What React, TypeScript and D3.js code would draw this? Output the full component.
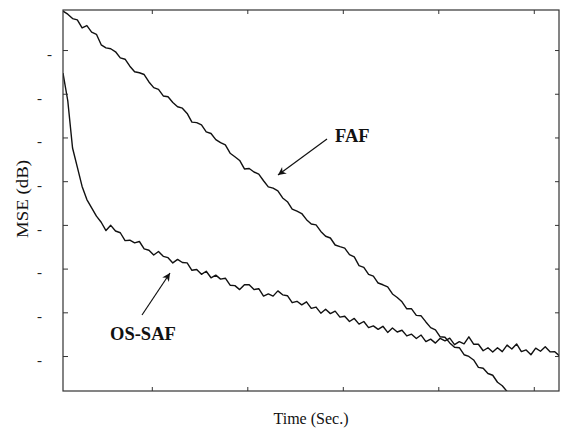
import React, { useEffect, useRef } from "react";
import * as d3 from "d3";

// sampling grid (sec.)
const t0 = 0.07;
const tStep = 0.05;

const fafMse = [
  4.46, 4.1, 3.6, 3.45, 2.53, 2.8, 2.05, 1.8, 0.6, 0.25,
  0.15, -0.2, -0.9, -1.05, -1.85, -2.49, -2.6, -2.8, -3.65, -4.3,
  -4.5, -5.25, -5.35, -6.0, -6.49, -6.65, -7.25, -8.25, -8.3, -8.55,
  -9.35, -9.55, -10.25, -10.6, -10.85, -11.8, -12.2, -12.63, -13.6, -13.55,
  -13.95, -14.2, -14.95, -15.65, -15.8, -16.1, -16.92, -17.35, -18.2, -18.43,
  -18.7, -19.4, -19.9, -20.0, -20.75, -21.3, -21.5, -22.3, -22.49, -22.65,
  -23.4, -23.65, -24.65, -24.85, -25.65, -25.85, -26.65, -26.85, -27.1, -27.9,
  -28.3, -28.8, -29.6, -29.6, -30.35, -30.4, -31.1, -31.75, -32.0, -32.8,
  -32.85, -33.5, -34.0, -34.05, -34.85, -35.05, -35.45, -36.3, -36.4, -37.0,
  -37.2, -38.0, -38.4, -39.05, -39.2, -39.7,
];

const ossafMse = [
  -2.63, -5.8, -11.2, -13.4, -15.6, -17.1, -18.05, -19.0, -19.7, -20.65,
  -20.05, -20.7, -20.9, -21.8, -21.75, -22.05, -21.9, -22.75, -22.9, -23.45,
  -23.05, -23.6, -23.75, -24.35, -23.95, -24.3, -24.35, -25.19, -25.1, -25.65,
  -25.3, -26.05, -25.75, -26.2, -26.1, -26.9, -26.95, -27.4, -26.85, -26.85,
  -27.4, -27.3, -28.15, -27.9, -28.15, -27.55, -28.0, -28.1, -28.9, -28.74,
  -29.15, -28.8, -29.55, -29.4, -30.1, -29.65, -30.15, -29.87, -30.55, -30.45,
  -31.05, -30.7, -31.35, -31.05, -31.75, -31.55, -31.95, -31.6, -32.3, -31.8,
  -32.25, -32.05, -32.7, -32.5, -33.0, -32.6, -33.35, -33.07, -33.52, -32.97,
  -33.27, -32.95, -33.7, -33.35, -33.6, -32.8, -33.65, -33.65, -34.4, -34.05,
  -34.55, -34.05, -34.5, -33.75, -34.2, -33.62, -34.5, -34.3, -34.85, -34.1,
  -34.45, -33.95, -34.52, -34.5, -35.0,
];

const xTicks = [1, 2, 3, 4, 5];
const yTicks = [0, -5, -10, -15, -20, -25, -30, -35];

const width = 562;
const height = 437;
const plot = { left: 63, right: 559, top: 10, bottom: 391 };
const serif = '"Liberation Serif", "DejaVu Serif", serif';

export default function App() {
  const ref = useRef<SVGSVGElement>(null);

  useEffect(() => {
    const svg = d3.select(ref.current);
    svg.selectAll("*").remove();

    const x = d3.scaleLinear().domain([0.07, 5.264]).range([plot.left, plot.right]);
    const y = d3.scaleLinear().domain([4.58, -39.0]).range([plot.top, plot.bottom]);

    const defs = svg.append("defs");
    defs.append("clipPath").attr("id", "plotclip")
      .append("rect")
      .attr("x", plot.left).attr("y", plot.top)
      .attr("width", plot.right - plot.left).attr("height", plot.bottom - plot.top);

    const marker = defs.append("marker")
      .attr("id", "arrowhead")
      .attr("viewBox", "0 0 10 10")
      .attr("refX", 10).attr("refY", 5)
      .attr("markerWidth", 9).attr("markerHeight", 8)
      .attr("markerUnits", "userSpaceOnUse")
      .attr("orient", "auto");
    marker.append("path").attr("d", "M0,0 L10,5 L0,10 L3,5 Z").attr("fill", "#111");

    // curves
    const line = d3.line<number>()
      .x((_, i) => x(t0 + i * tStep))
      .y(d => y(d));

    const curves = svg.append("g").attr("clip-path", "url(#plotclip)");
    [fafMse, ossafMse].forEach(series => {
      curves.append("path")
        .datum(series)
        .attr("fill", "none")
        .attr("stroke", "#111")
        .attr("stroke-width", 1.4)
        .attr("stroke-linejoin", "round")
        .attr("d", line);
    });

    // frame
    svg.append("rect")
      .attr("x", plot.left).attr("y", plot.top)
      .attr("width", plot.right - plot.left).attr("height", plot.bottom - plot.top)
      .attr("fill", "none").attr("stroke", "#333").attr("stroke-width", 1.2);

    const axisStyle = (g: any) => {
      g.select(".domain").remove();
      g.selectAll("line").attr("stroke", "#333");
    };

    svg.append("g")
      .attr("transform", `translate(0,${plot.bottom})`)
      .call(d3.axisBottom(x).tickValues(xTicks).tickSizeInner(-4).tickSizeOuter(0).tickFormat(() => ""))
      .call(axisStyle);
    svg.append("g")
      .attr("transform", `translate(0,${plot.top})`)
      .call(d3.axisTop(x).tickValues(xTicks).tickSizeInner(-4).tickSizeOuter(0).tickFormat(() => ""))
      .call(axisStyle);
    svg.append("g")
      .attr("transform", `translate(${plot.right},0)`)
      .call(d3.axisRight(y).tickValues(yTicks).tickSizeInner(-4).tickSizeOuter(0).tickFormat(() => ""))
      .call(axisStyle);

    const left = svg.append("g")
      .attr("transform", `translate(${plot.left},0)`)
      .call(d3.axisLeft(y).tickValues(yTicks).tickSizeInner(-5).tickSizeOuter(0).tickPadding(21).tickFormat(() => "-"))
      .call(axisStyle);
    left.selectAll("text")
      .style("font-family", serif)
      .style("font-size", "15px")
      .attr("fill", "#222")
      .attr("dy", "0.55em")
      .attr("x", (_d: any, i: number) => (i === 0 ? -11 : -21));

    // axis titles
    svg.append("text")
      .attr("x", (plot.left + plot.right) / 2)
      .attr("y", 424)
      .attr("text-anchor", "middle")
      .style("font-family", serif)
      .style("font-size", "16px")
      .attr("fill", "#111")
      .text("Time (Sec.)");

    svg.append("text")
      .attr("transform", "translate(28,199) rotate(-90)")
      .attr("text-anchor", "middle")
      .style("font-family", serif)
      .style("font-size", "17px")
      .attr("textLength", 78)
      .attr("lengthAdjust", "spacingAndGlyphs")
      .attr("fill", "#111")
      .text("MSE (dB)");

    // annotations
    const notes = [
      { label: "FAF", tx: 335, ty: 142, from: [327, 139], to: [278, 175] },
      { label: "OS-SAF", tx: 110, ty: 340, from: [142, 315], to: [170, 273] },
    ];
    notes.forEach(n => {
      svg.append("line")
        .attr("x1", n.from[0]).attr("y1", n.from[1])
        .attr("x2", n.to[0]).attr("y2", n.to[1])
        .attr("stroke", "#111").attr("stroke-width", 1.2)
        .attr("marker-end", "url(#arrowhead)");
      svg.append("text")
        .attr("x", n.tx).attr("y", n.ty)
        .style("font-family", serif)
        .style("font-weight", "bold")
        .style("font-size", "18.5px")
        .attr("fill", "#111")
        .text(n.label);
    });
  }, []);

  return (
    <svg
      ref={ref}
      width={width}
      height={height}
      style={{ position: "absolute", left: 0, top: 0, background: "#fff" }}
    />
  );
}
